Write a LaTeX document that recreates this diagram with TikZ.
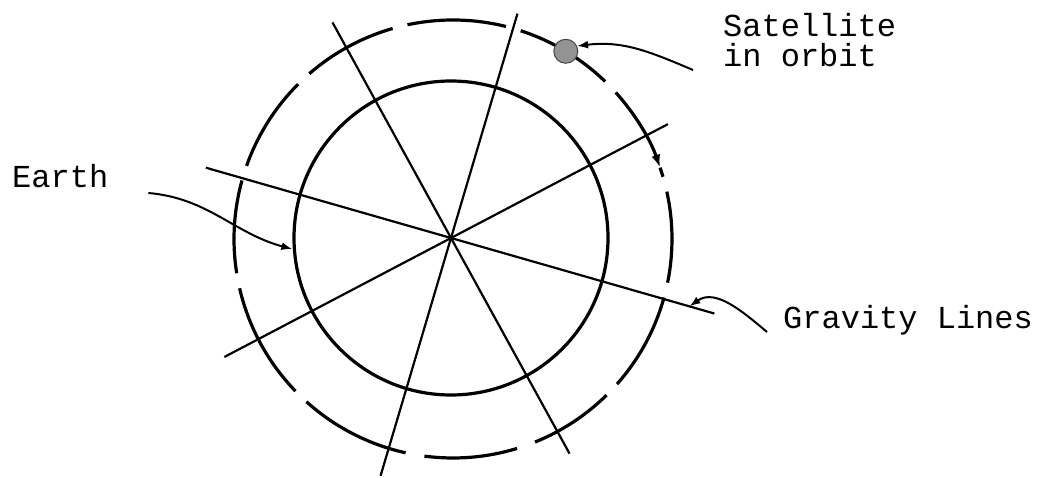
\documentclass[tikz,border=0pt]{standalone}
\usepackage{fontspec}
\setmonofont{Liberation Mono}
\usetikzlibrary{arrows.meta,calc}

\tikzset{
  orbit/.style={line width=3.2pt},
  earthline/.style={line width=3.2pt},
  gravline/.style={line width=2.2pt},
  pointer/.style={line width=2pt, -{Latex[length=11pt,width=8pt]}},
  caption/.style={font=\ttfamily\fontsize{32}{30}\selectfont, inner sep=0pt, align=left},
  satellite/.style={circle, fill=gray!85, draw=gray!55!black, line width=1pt, minimum size=24pt, inner sep=0pt},
}

\begin{document}
\begin{tikzpicture}[x=1pt,y=1pt]
\useasboundingbox (0,0) rectangle (1044,477);
% centre of the Earth and centre of the orbit
\coordinate (c) at (451,239);
\coordinate (o) at (453,238);

% ====================
% Earth
\draw[earthline] (c) circle[radius=157pt];

% ====================
% Gravity lines through the centre (angle / length out / length back)
\foreach \ang/\la/\lb in {118.8/246/246, 73.5/234/248, 27.7/245/256, -16/274/255}
  \draw[gravline] ($(c)+(\ang:\la)$) -- ($(c)+(\ang+180:\lb)$);

% ====================
% Orbit, drawn as broken arcs
\foreach \a/\b in {-167/-136, -132/-102.5, -97.5/-73, -68/-45.5, -41.5/-15.5,
                   -11.5/12.5, 46/72, 76/102, 106/131, 135/160.5, 164.5/189}
  \draw[orbit] (o) ++(\a:219) arc[start angle=\a, end angle=\b, radius=219pt];
% arc with the direction of travel
\draw[orbit, -{Latex[length=13pt,width=9pt]}] (o) ++(42:219) arc[start angle=42, end angle=19, radius=219pt];
\draw[orbit] (o) ++(19:219) arc[start angle=19, end angle=16.5, radius=219pt];

% Satellite on the orbit
\node[satellite] (sat) at ($(o)+(59:219)$) {};

% ====================
% Labels
\node[caption, anchor=base west] (earth) at (12,289) {Earth};
\node[caption, anchor=base west] (satlbl) at (723,410) {Satellite\\in orbit};
\node[caption, anchor=base west] (grav) at (783,149) {Gravity Lines};

% ====================
% Pointers from the labels
\coordinate (efrom) at ([xshift=40pt,yshift=-5pt]earth.base east);
\coordinate (etip) at ($(c)+(184:159)$);
\draw[pointer] (efrom) to[out=-5,in=165] (etip);

\coordinate (sfrom) at ([xshift=-30pt,yshift=-3pt]satlbl.base west);
\draw[pointer] (sfrom) to[out=157,in=7] (sat.25);

\coordinate (gfrom) at ([xshift=-16pt,yshift=-4pt]grav.base west);
\coordinate (gtip) at ($(c)+(-16:248)$);
\draw[pointer] (gfrom) to[out=140,in=35] (gtip);

\end{tikzpicture}
\end{document}
